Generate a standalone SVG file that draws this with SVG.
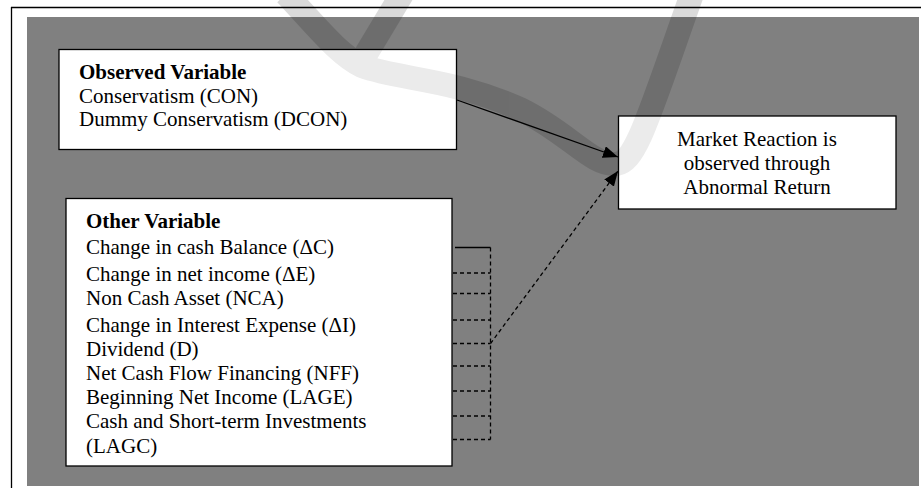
<svg xmlns="http://www.w3.org/2000/svg" width="921" height="490" viewBox="0 0 921 490">
  <style>
    .box { fill: #ffffff; stroke: #000000; stroke-width: 1.3; }
    .t { font-family: "Liberation Serif", "Times New Roman", serif; font-size: 21px; fill: #000000; }
    .b { font-weight: bold; }
    .c { text-anchor: middle; }
    .ln { fill: none; stroke: #000000; stroke-width: 1.3; }
    .dash { stroke-dasharray: 4 3; }
    .wm { fill: none; stroke: #000000; stroke-width: 24; }
  </style>
  <defs>
    <marker id="arrow" markerUnits="userSpaceOnUse" markerWidth="16" markerHeight="12" refX="15" refY="6" orient="auto">
      <path d="M0,0 L15,6 L0,12 z" fill="#000000"/>
    </marker>
    <g id="wmshape">
      <path class="wm" d="M286,-6 C318,28 338,54 362,66 C400,80 452,78 522,110 C570,134 592,166 616,164 C636,162 648,118 692,-6"/>
      <path class="wm" d="M402,-6 L360,64"/>
    </g>
    <clipPath id="boxclip">
      <rect x="59" y="50" width="397" height="99"/>
      <rect x="619" y="116" width="276" height="93"/>
      <rect x="66" y="199" width="386" height="267"/>
    </clipPath>
  </defs>

  <rect x="0" y="0" width="921" height="490" fill="#ffffff"/>
  <rect id="panel" x="27" y="17" width="892" height="469" fill="#808080"/>
  <line class="ln" x1="11" y1="7.5" x2="921" y2="7.5"/>
  <line class="ln" x1="11.5" y1="7" x2="11.5" y2="488"/>

  <use href="#wmshape" opacity="0.14"/>

  <g id="node-observed">
    <rect class="box" x="59" y="49.5" width="397.5" height="100"/>
    <text class="t b" x="79" y="79">Observed Variable</text>
    <text class="t" x="79" y="102.5">Conservatism (CON)</text>
    <text class="t" x="79" y="125.5">Dummy Conservatism (DCON)</text>
  </g>

  <g id="node-other">
    <rect class="box" x="66" y="198.5" width="386" height="267.5"/>
    <text class="t b" x="86" y="228">Other Variable</text>
    <text class="t" x="86" y="254">Change in cash Balance (ΔC)</text>
    <text class="t" x="86" y="280.5">Change in net income (ΔE)</text>
    <text class="t" x="86" y="305">Non Cash Asset (NCA)</text>
    <text class="t" x="86" y="331.5">Change in Interest Expense (ΔI)</text>
    <text class="t" x="86" y="355.5">Dividend (D)</text>
    <text class="t" x="86" y="379.5">Net Cash Flow Financing (NFF)</text>
    <text class="t" x="86" y="404">Beginning Net Income (LAGE)</text>
    <text class="t" x="86" y="428">Cash and Short-term Investments</text>
    <text class="t" x="86" y="453">(LAGC)</text>
  </g>

  <g id="node-market">
    <rect class="box" x="618.5" y="116" width="277.5" height="93"/>
    <text class="t c" x="757" y="146">Market Reaction is</text>
    <text class="t c" x="757" y="170">observed through</text>
    <text class="t c" x="757" y="194">Abnormal Return</text>
  </g>

  <g id="connectors">
    <line class="ln" x1="457" y1="100" x2="618" y2="157" marker-end="url(#arrow)"/>
    <line class="ln" x1="455" y1="247.5" x2="490.5" y2="247.5"/>
    <line class="ln dash" x1="453" y1="273" x2="490.5" y2="273"/>
    <line class="ln dash" x1="453" y1="293.5" x2="490.5" y2="293.5"/>
    <line class="ln dash" x1="453" y1="320" x2="490.5" y2="320"/>
    <line class="ln dash" x1="453" y1="343.5" x2="490.5" y2="343.5"/>
    <line class="ln dash" x1="453" y1="366" x2="490.5" y2="366"/>
    <line class="ln dash" x1="453" y1="391" x2="490.5" y2="391"/>
    <line class="ln dash" x1="453" y1="416" x2="490.5" y2="416"/>
    <line class="ln dash" x1="453" y1="439.5" x2="490.5" y2="439.5"/>
    <line class="ln dash" x1="490.5" y1="247.5" x2="490.5" y2="439.5"/>
    <line class="ln dash" x1="490.5" y1="343.5" x2="618" y2="171" marker-end="url(#arrow)"/>
  </g>

  <g clip-path="url(#boxclip)">
    <use href="#wmshape" opacity="0.08"/>
  </g>
</svg>
